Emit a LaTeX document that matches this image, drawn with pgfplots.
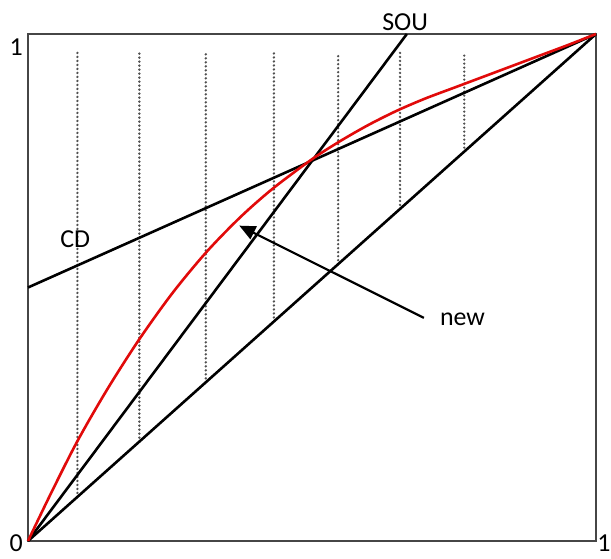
\documentclass[border=0pt]{standalone}
\usepackage{pgfplots}
\pgfplotsset{compat=1.18}
\usetikzlibrary{arrows.meta}
\usepackage{fontspec}
\setmainfont{Carlito}
\definecolor{curvered}{RGB}{225,10,10}
\definecolor{framegray}{RGB}{70,70,70}
\definecolor{dotgray}{RGB}{80,80,80}
\tikzset{lab/.style={font=\fontsize{26}{30}\selectfont, inner sep=0pt}}
\begin{document}
\begin{tikzpicture}
\begin{axis}[
  width=568bp, height=507bp, scale only axis,
  xmin=0, xmax=1, ymin=0, ymax=1,
  xtick=\empty, ytick=\empty,
  axis line style={draw=framegray, line width=2bp},
  clip=false,
]
\coordinate (ll) at (rel axis cs:0,0);
% vertical dotted guides, from the diagonal up
\pgfplotsset{guide/.style={draw=dotgray, line width=2.6bp, line cap=round, dash pattern=on 0pt off 4bp}}
\addplot[guide] coordinates {(0.087,0.087) (0.087,0.963)};
\addplot[guide] coordinates {(0.196,0.196) (0.196,0.963)};
\addplot[guide] coordinates {(0.313,0.313) (0.313,0.963)};
\addplot[guide] coordinates {(0.433,0.433) (0.433,0.963)};
\addplot[guide] coordinates {(0.546,0.546) (0.546,0.963)};
\addplot[guide] coordinates {(0.655,0.655) (0.655,0.963)};
\addplot[guide] coordinates {(0.768,0.768) (0.768,0.963)};
% diagonal
\addplot[black, line width=2.6bp] coordinates {(0,0) (1,1)};
% SOU line
\addplot[black, line width=2.6bp] coordinates {(0,0) (0.667,1)};
% CD line
\addplot[black, line width=2.6bp] coordinates {(0,0.5) (1,1)};
% new curve
\addplot[curvered, line width=2.6bp, smooth, tension=0.5] coordinates {
  (0,0) (0.04,0.093) (0.087,0.197) (0.14,0.30) (0.196,0.398) (0.255,0.49)
  (0.315,0.571) (0.375,0.640) (0.432,0.696) (0.5,0.753) (0.55,0.789)
  (0.6,0.821) (0.65,0.849) (0.7,0.873) (0.75,0.894) (0.8,0.915)
  (0.85,0.936) (0.9,0.957) (0.95,0.978) (1,1)};
% pointer
\addplot[black, line width=2.2bp, -{Triangle[length=16bp,width=14bp]}]
  coordinates {(0.697,0.44) (0.372,0.622)};
\node[lab] at (axis cs:-0.021,0.974) {1};
\node[lab] at (axis cs:-0.021,-0.004) {0};
\node[lab] at (axis cs:1.014,-0.004) {1};
\node[lab] at (axis cs:0.664,1.024) {SOU};
\node[lab] at (axis cs:0.083,0.596) {CD};
\node[lab, anchor=west] at (axis cs:0.725,0.438) {new};
\end{axis}
\pgfresetboundingbox
\path (ll) ++(-28bp,-18bp) rectangle ++(611bp,559bp);
\end{tikzpicture}
\end{document}
